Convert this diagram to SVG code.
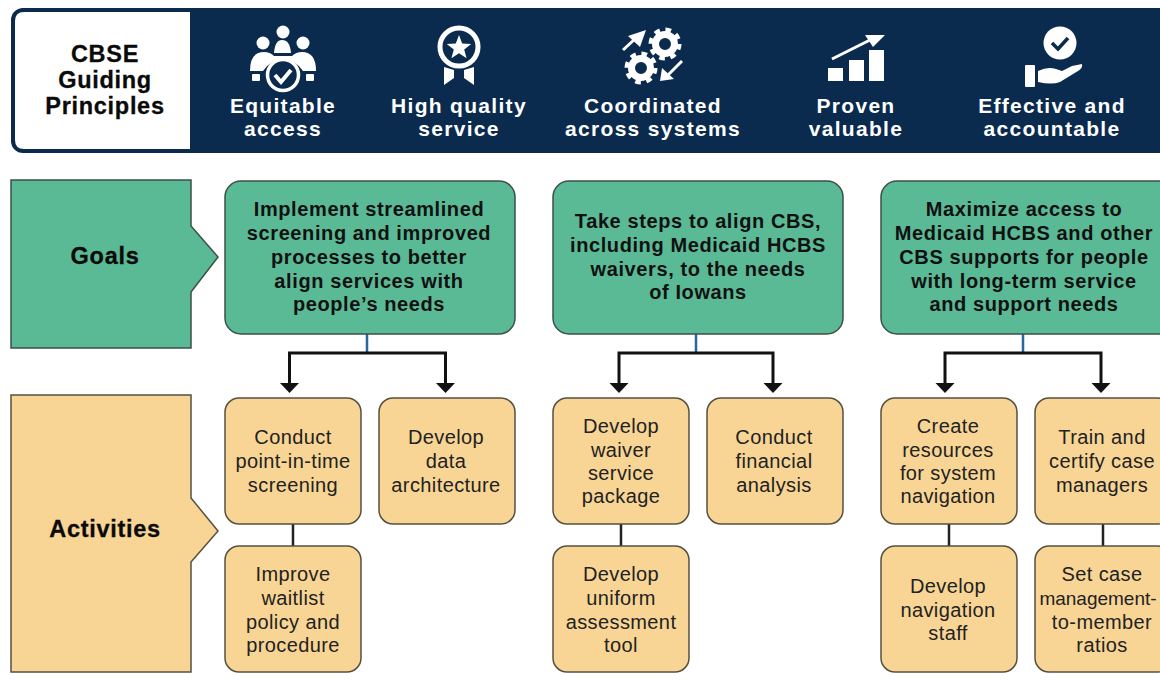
<svg xmlns="http://www.w3.org/2000/svg" width="1160" height="682" viewBox="0 0 1160 682">
<style>
text{font-family:"Liberation Sans",Arial,sans-serif;text-anchor:middle}
.h{font-weight:700;font-size:21px;fill:#fff;letter-spacing:1.3px}
.t{font-weight:700;font-size:23.500px;fill:#0a0a0a;stroke:#0a0a0a;stroke-width:.3;letter-spacing:.7px}
.g{font-weight:700;font-size:20px;fill:#111;letter-spacing:.6px}
.a{font-size:20px;fill:#222;letter-spacing:.4px}
.gb{fill:#5bba96;stroke:#3d4f48;stroke-width:1.5}
.ab{fill:#f8d594;stroke:#55503f;stroke-width:1.5}
.w{fill:#fff;stroke:none}
.wl{fill:none;stroke:#fff}
.c{fill:none;stroke:#111;stroke-width:3}
.s{fill:none;stroke:#2a659c;stroke-width:2.5}
.v{fill:none;stroke:#222;stroke-width:2.5}
.hd{fill:#111}
</style>
<defs>
<g id="gear"><circle r="9.5" fill="none" stroke="#fff" stroke-width="7"/><circle r="14" fill="none" stroke="#fff" stroke-width="5" stroke-dasharray="5.5 5.5"/></g>
<path id="ah" d="M-9.500 0H9.500L0 10Z"/>
</defs>
<rect width="1160" height="682" fill="#fff"/>
<g id="banner">
<rect x="11" y="8" width="1170" height="145" rx="12" fill="#0a2a4e"/>
<path d="M190 12H24Q15 12 15 21V140Q15 149 24 149H190Z" fill="#fff"/>
<text class="t"><tspan x="105" y="62">CBSE</tspan><tspan x="105" y="88">Guiding</tspan><tspan x="105" y="114">Principles</tspan></text>
</g>
<g id="p1">
<g class="w"><circle cx="283" cy="32" r="6.500"/><circle cx="263" cy="43" r="6.500"/><circle cx="303" cy="43" r="6.500"/><path d="M274 53Q275 40 282 40Q290 40 291 53Z"/><path d="M250 71Q250 52 264 52Q270 52 274 56H292Q296 52 302 52Q316 52 316 71H303Q296 60 283 60Q270 60 263 71Z"/><rect x="252" y="74" width="8" height="7" rx="1"/><rect x="306" y="74" width="8" height="7" rx="1"/></g>
<circle cx="283" cy="75" r="15.500" class="wl" stroke-width="3.500"/><path d="M275 75l6 7 10-12" class="wl" stroke-width="4"/>
<text class="h"><tspan x="283" y="113">Equitable</tspan><tspan x="283" y="136">access</tspan></text>
</g>
<g id="p2">
<circle cx="459" cy="47" r="19" class="wl" stroke-width="5"/>
<path class="w" d="M459 35l3.200 8.500 9 .4-7 5.600 2.400 8.700-7.600-5-7.600 5 2.400-8.700-7-5.600 9-.4Z"/>
<path class="w" d="M444 67l10 3V78l-10 7Z M474 67l-10 3V78l10 7Z"/>
<text class="h"><tspan x="459" y="113">High quality</tspan><tspan x="459" y="136">service</tspan></text>
</g>
<g id="p3">
<use href="#gear" x="665" y="44"/><use href="#gear" x="641" y="68"/>
<path class="wl" stroke-width="3" d="M623 50L636 38"/><path class="w" d="M628 36L646 30 640 47Z"/>
<path class="wl" stroke-width="3" d="M682 61L668 75"/><path class="w" d="M662 68L660 81 674 79Z"/>
<text class="h"><tspan x="653" y="113">Coordinated</tspan><tspan x="653" y="136">across systems</tspan></text>
</g>
<g id="p4">
<path class="w" d="M828 68h15v13h-15Z M849 60h15v21h-15Z M869 50h15v31h-15Z"/>
<path class="wl" stroke-width="3" d="M832 59L872 39"/><path class="w" d="M865 35L885 35 873 47Z"/>
<text class="h"><tspan x="856" y="113">Proven</tspan><tspan x="856" y="136">valuable</tspan></text>
</g>
<g id="p5">
<circle cx="1060" cy="43" r="16.500" fill="#fff"/><path d="M1052 43l6 6 10-11" fill="none" stroke="#0a2a4e" stroke-width="3.500"/>
<rect x="1025" y="65" width="10" height="22" rx="1" class="w"/>
<path class="w" d="M1038 71Q1048 66 1056 69L1062 71 1072 66 1082 64Q1083 68 1078 71L1060 82Q1052 85 1038 82Z"/>
<text class="h"><tspan x="1052" y="113">Effective and</tspan><tspan x="1052" y="136">accountable</tspan></text>
</g>
<g id="connectors">
<path class="s" d="M367 334V353M696 334V353M1023 334V353"/>
<path class="c" d="M289.500 384V353H445.500V384"/>
<path class="c" d="M619 384V353H773V384"/>
<path class="c" d="M945 384V353H1101V384"/>
<g class="hd"><use href="#ah" x="289.500" y="383"/><use href="#ah" x="445.500" y="383"/><use href="#ah" x="619" y="383"/><use href="#ah" x="773" y="383"/><use href="#ah" x="945" y="383"/><use href="#ah" x="1101" y="383"/></g>
<path class="v" d="M293 524V546M621 524V546M949 524V546M1103 524V546"/>
</g>
<g id="goals-label"><path class="gb" d="M11 180H191V226L218 257 191 292V348H11Z"/><text class="t" x="105" y="264">Goals</text></g>
<g id="activities-label"><path class="ab" d="M11 395H191V498L218 531 191 562V672H11Z"/><text class="t" x="105" y="537">Activities</text></g>
<g id="goal1"><rect class="gb" x="225" y="181" width="290" height="153" rx="16"/><text class="g"><tspan x="369" y="216">Implement streamlined</tspan><tspan x="369" y="240">screening and improved</tspan><tspan x="369" y="264">processes to better</tspan><tspan x="369" y="288">align services with</tspan><tspan x="369" y="311">people’s needs</tspan></text></g>
<g id="goal2"><rect class="gb" x="553" y="181" width="290" height="153" rx="16"/><text class="g"><tspan x="698" y="228">Take steps to align CBS,</tspan><tspan x="698" y="252">including Medicaid HCBS</tspan><tspan x="698" y="276">waivers, to the needs</tspan><tspan x="698" y="299">of Iowans</tspan></text></g>
<g id="goal3"><rect class="gb" x="881" y="181" width="300" height="153" rx="16"/><text class="g"><tspan x="1024" y="216">Maximize access to</tspan><tspan x="1024" y="240">Medicaid HCBS and other</tspan><tspan x="1024" y="264">CBS supports for people</tspan><tspan x="1024" y="288">with long-term service</tspan><tspan x="1024" y="311">and support needs</tspan></text></g>
<g id="a1"><rect class="ab" x="225" y="398" width="136" height="126" rx="14"/><text class="a"><tspan x="293" y="444">Conduct</tspan><tspan x="293" y="468">point-in-time</tspan><tspan x="293" y="492">screening</tspan></text></g>
<g id="a2"><rect class="ab" x="379" y="398" width="136" height="126" rx="14"/><text class="a"><tspan x="446" y="444">Develop</tspan><tspan x="446" y="468">data</tspan><tspan x="446" y="492">architecture</tspan></text></g>
<g id="a3"><rect class="ab" x="225" y="546" width="136" height="126" rx="14"/><text class="a"><tspan x="293" y="581">Improve</tspan><tspan x="293" y="605">waitlist</tspan><tspan x="293" y="629">policy and</tspan><tspan x="293" y="652">procedure</tspan></text></g>
<g id="a4"><rect class="ab" x="553" y="398" width="136" height="126" rx="14"/><text class="a"><tspan x="621" y="433">Develop</tspan><tspan x="621" y="457">waiver</tspan><tspan x="621" y="480">service</tspan><tspan x="621" y="503">package</tspan></text></g>
<g id="a5"><rect class="ab" x="707" y="398" width="136" height="126" rx="14"/><text class="a"><tspan x="774" y="444">Conduct</tspan><tspan x="774" y="468">financial</tspan><tspan x="774" y="492">analysis</tspan></text></g>
<g id="a6"><rect class="ab" x="553" y="546" width="136" height="126" rx="14"/><text class="a"><tspan x="621" y="581">Develop</tspan><tspan x="621" y="605">uniform</tspan><tspan x="621" y="629">assessment</tspan><tspan x="621" y="652">tool</tspan></text></g>
<g id="a7"><rect class="ab" x="881" y="398" width="136" height="126" rx="14"/><text class="a"><tspan x="948" y="433">Create</tspan><tspan x="948" y="457">resources</tspan><tspan x="948" y="480">for system</tspan><tspan x="948" y="503">navigation</tspan></text></g>
<g id="a8"><rect class="ab" x="1035" y="398" width="136" height="126" rx="14"/><text class="a"><tspan x="1102" y="444">Train and</tspan><tspan x="1102" y="468">certify case</tspan><tspan x="1102" y="492">managers</tspan></text></g>
<g id="a9"><rect class="ab" x="881" y="546" width="136" height="126" rx="14"/><text class="a"><tspan x="948" y="593">Develop</tspan><tspan x="948" y="617">navigation</tspan><tspan x="948" y="640">staff</tspan></text></g>
<g id="a10"><rect class="ab" x="1035" y="546" width="136" height="126" rx="14"/><text class="a"><tspan x="1102" y="581">Set case</tspan><tspan x="1098" y="605" style="font-size:19px;letter-spacing:0">management-</tspan><tspan x="1102" y="629">to-member</tspan><tspan x="1102" y="652">ratios</tspan></text></g>
</svg>
